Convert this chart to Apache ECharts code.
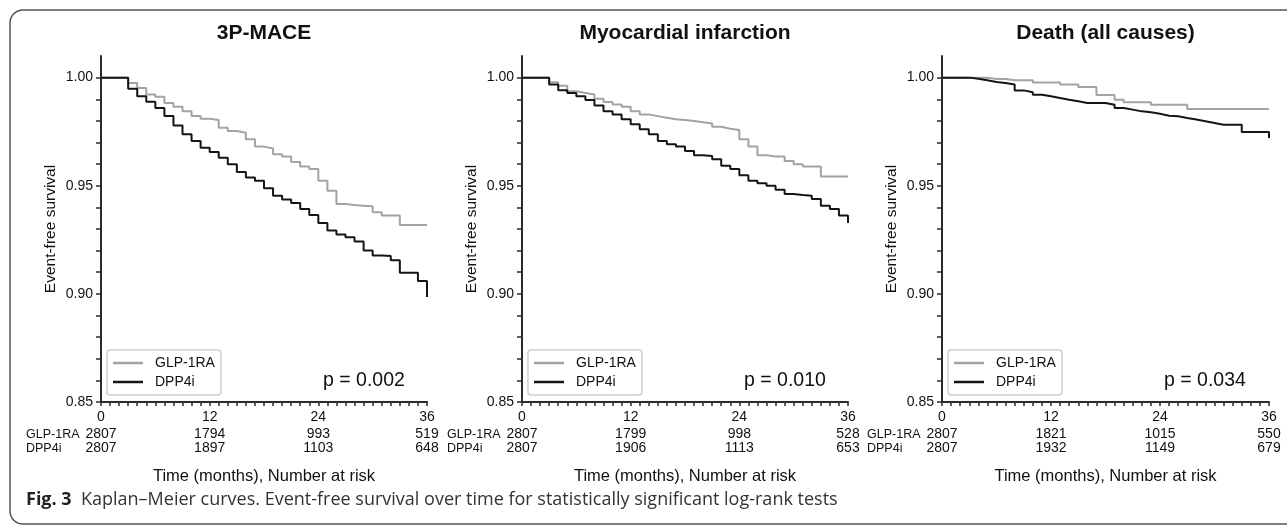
<!DOCTYPE html>
<html>
<head>
<meta charset="utf-8">
<title>Kaplan–Meier curves</title>
<script src="https://cdn.jsdelivr.net/npm/echarts@6/dist/echarts.min.js"></script>
<style>
  html, body { margin: 0; padding: 0; background: #fff; }
  #chart { width: 1287px; height: 527px; }
</style>
</head>
<body>
<div id="chart"></div>
<script>
// months on the x axis (0..36)
const months = [0, 1, 2, 3, 4, 5, 6, 7, 8, 9, 10, 11, 12, 13, 14, 15, 16, 17, 18,
  19, 20, 21, 22, 23, 24, 25, 26, 27, 28, 29, 30, 31, 32, 33, 34, 35, 36];

// survival, one value per month
const maceGlp = [1, 1, 1, 0.9975, 0.9952, 0.9922, 0.9911, 0.9883, 0.9865, 0.9845, 0.9822, 0.9810,
  0.9804, 0.9768, 0.9753, 0.9745, 0.9715, 0.9681, 0.9672, 0.9646, 0.9635, 0.9610, 0.9589, 0.9577,
  0.9523, 0.9477, 0.9416, 0.9411, 0.9408, 0.9405, 0.9377, 0.9362, 0.9362, 0.9319, 0.9319, 0.9319, 0.9319];
const maceDpp = [1, 1, 1, 0.9948, 0.9914, 0.9888, 0.9860, 0.9822, 0.9779, 0.9738, 0.9707, 0.9676,
  0.9656, 0.9630, 0.9600, 0.9564, 0.9538, 0.9523, 0.9488, 0.9454, 0.9436, 0.9420, 0.9393, 0.9365,
  0.9328, 0.9293, 0.9275, 0.9262, 0.9242, 0.9201, 0.9178, 0.9175, 0.9155, 0.9098, 0.9098, 0.9060, 0.8986];

const miGlp = [1, 1, 1, 0.9979, 0.9963, 0.9937, 0.9929, 0.9922, 0.9902, 0.9887, 0.9876, 0.9865,
  0.9845, 0.9830, 0.9822, 0.9814, 0.9807, 0.9804, 0.9799, 0.9794, 0.9788, 0.9773, 0.9764, 0.9758,
  0.9715, 0.9681, 0.9641, 0.9635, 0.9635, 0.9615, 0.9600, 0.9589, 0.9589, 0.9543, 0.9543, 0.9543, 0.9543];
const miDpp = [1, 1, 1, 0.9968, 0.9942, 0.9929, 0.9914, 0.9896, 0.9871, 0.9845, 0.9830, 0.9807,
  0.9784, 0.9761, 0.9738, 0.9707, 0.9692, 0.9681, 0.9661, 0.9641, 0.9638, 0.9623, 0.9592, 0.9577,
  0.9549, 0.9523, 0.9512, 0.9500, 0.9482, 0.9462, 0.9457, 0.9454, 0.9439, 0.9408, 0.9393, 0.9362, 0.9328];

const deathGlp = [1, 1, 1, 1, 1, 0.9994, 0.9994, 0.9988, 0.9988, 0.9988, 0.9978, 0.9978,
  0.9978, 0.9968, 0.9968, 0.9957, 0.9957, 0.9920, 0.9920, 0.9898, 0.9886, 0.9886, 0.9886, 0.9874,
  0.9874, 0.9874, 0.9874, 0.9855, 0.9855, 0.9855, 0.9855, 0.9855, 0.9855, 0.9855, 0.9855, 0.9855, 0.9855];
const deathDpp = [1, 1, 1, 0.9995, 0.9988, 0.9980, 0.9975, 0.9968, 0.9941, 0.9932, 0.9921, 0.9914,
  0.9906, 0.9898, 0.9891, 0.9883, 0.9883, 0.9883, 0.9875, 0.9860, 0.9852, 0.9844, 0.9840, 0.9833,
  0.9824, 0.9821, 0.9813, 0.9806, 0.9798, 0.9790, 0.9782, 0.9782, 0.9782, 0.9748, 0.9748, 0.9748, 0.9721];

// number at risk table
const riskTicks = [0, 12, 24, 36];
const maceRiskGlp = [2807, 1794, 993, 519];
const maceRiskDpp = [2807, 1897, 1103, 648];
const miRiskGlp = [2807, 1799, 998, 528];
const miRiskDpp = [2807, 1906, 1113, 653];
const deathRiskGlp = [2807, 1821, 1015, 550];
const deathRiskDpp = [2807, 1932, 1149, 679];

const yTicks = [0.85, 0.86, 0.87, 0.88, 0.89, 0.90, 0.91, 0.92, 0.93, 0.94, 0.95, 0.96, 0.97, 0.98, 0.99, 1.00];
const yLabels = [0.85, 0.90, 0.95, 1.00];

const panelTitles = ["3P-MACE", "Myocardial infarction", "Death (all causes)"];
const pValues = ["p = 0.002", "p = 0.010", "p = 0.034"];
const groupNames = ["GLP-1RA", "DPP4i"];

const panels = [
  { glp: maceGlp, dpp: maceDpp, riskGlp: maceRiskGlp, riskDpp: maceRiskDpp },
  { glp: miGlp, dpp: miDpp, riskGlp: miRiskGlp, riskDpp: miRiskDpp },
  { glp: deathGlp, dpp: deathDpp, riskGlp: deathRiskGlp, riskDpp: deathRiskDpp }
];

const FONT = "'Liberation Sans', Arial, Helvetica, sans-serif";
const CAPTION_FONT = "'Open Sans', 'Noto Sans', sans-serif";
const gridLeft = [101, 522, 942];
const gridWidth = [326, 326, 327];
const gridTop = 56;
const gridHeight = 346;
const axisColor = "#2b2b2b";
const glpColor = "#a3a3a3";
const dppColor = "#141414";

let myChart = echarts.init(document.getElementById("chart"), null, { renderer: "canvas" });

let grids = [], xAxes = [], yAxes = [], series = [], legends = [], titles = [];

panels.forEach((p, i) => {
  grids.push({ left: gridLeft[i], top: gridTop, width: gridWidth[i], height: gridHeight });

  // main time axis
  xAxes.push({
    gridIndex: i,
    type: "value",
    min: 0,
    max: 36,
    interval: 1,
    name: "Time (months), Number at risk",
    nameLocation: "middle",
    nameGap: 66,
    nameTextStyle: { fontFamily: FONT, fontSize: 16.5, color: "#111" },
    axisLine: { show: true, onZero: false, lineStyle: { color: axisColor, width: 2 } },
    axisTick: { show: true, length: 4, lineStyle: { color: axisColor, width: 1.5 } },
    axisLabel: { customValues: riskTicks, margin: 8, fontFamily: FONT, fontSize: 14, color: "#111" },
    splitLine: { show: false }
  });
  // number at risk rows, drawn as label-only axes
  [p.riskGlp, p.riskDpp].forEach((risk, r) => {
    xAxes.push({
      gridIndex: i,
      type: "value",
      min: 0,
      max: 36,
      position: "bottom",
      offset: 17 + r * 14,
      axisLine: { show: false },
      axisTick: { show: false },
      splitLine: { show: false },
      axisLabel: {
        customValues: riskTicks,
        margin: 8,
        fontFamily: FONT,
        fontSize: 14,
        color: "#111",
        formatter: v => String(risk[riskTicks.indexOf(v)])
      }
    });
  });

  yAxes.push({
    gridIndex: i,
    type: "value",
    min: 0.85,
    max: 1.01,
    name: "Event-free survival",
    nameLocation: "middle",
    nameGap: 42,
    nameTextStyle: { fontFamily: FONT, fontSize: 15.5, color: "#111" },
    axisLine: { show: true, onZero: false, lineStyle: { color: axisColor, width: 2 } },
    axisTick: { show: true, length: 5, customValues: yTicks, lineStyle: { color: axisColor, width: 1.5 } },
    axisLabel: {
      customValues: yLabels,
      margin: 8,
      fontFamily: FONT,
      fontSize: 14,
      color: "#111",
      formatter: v => v.toFixed(2)
    },
    splitLine: { show: false }
  });

  const xBase = i * 3;
  series.push({
    name: groupNames[0],
    type: "line",
    step: "end",
    xAxisIndex: xBase,
    yAxisIndex: i,
    symbol: "none",
    color: glpColor,
    lineStyle: { color: glpColor, width: 2 },
    data: months.map((m, k) => [m, p.glp[k]])
  });
  series.push({
    name: groupNames[1],
    type: "line",
    step: "end",
    xAxisIndex: xBase,
    yAxisIndex: i,
    symbol: "none",
    color: dppColor,
    lineStyle: { color: dppColor, width: 2 },
    data: months.map((m, k) => [m, p.dpp[k]])
  });

  legends.push({
    data: groupNames,
    orient: "vertical",
    left: gridLeft[i] + 6,
    top: 350,
    icon: "rect",
    itemWidth: 30,
    itemHeight: 2.5,
    itemGap: 5,
    padding: [6, 6, 6, 6],
    backgroundColor: "#fff",
    borderColor: "#cfcfcf",
    borderWidth: 1.5,
    borderRadius: 3,
    textStyle: { fontFamily: FONT, fontSize: 14, color: "#111", padding: [0, 4, 0, 7] }
  });

  titles.push({
    text: panelTitles[i],
    left: gridLeft[i] + gridWidth[i] / 2,
    top: 23,
    textAlign: "center",
    padding: 0,
    textStyle: { fontFamily: FONT, fontSize: 21, fontWeight: "bold", color: "#111" }
  });
  titles.push({
    text: pValues[i],
    left: gridLeft[i] + 222,
    top: 371,
    padding: 0,
    textStyle: { fontFamily: FONT, fontSize: 19.5, fontWeight: "normal", color: "#111" }
  });
  groupNames.forEach((g, r) => {
    titles.push({
      text: g,
      left: gridLeft[i] - 75,
      top: 428 + r * 14,
      padding: 0,
      textStyle: { fontFamily: FONT, fontSize: 12.5, fontWeight: "normal", color: "#111" }
    });
  });
});

// figure caption
titles.push({
  text: "{b|Fig. 3}  {n|Kaplan–Meier curves. Event-free survival over time for statistically significant log-rank tests}",
  left: 26,
  top: 491,
  padding: 0,
  textStyle: {
    fontFamily: CAPTION_FONT,
    fontWeight: "normal",
    fontSize: 18,
    rich: {
      b: { fontFamily: CAPTION_FONT, fontSize: 18, fontWeight: "bold", color: "#222" },
      n: { fontFamily: CAPTION_FONT, fontSize: 18, fontWeight: "normal", color: "#333" }
    }
  }
});

myChart.setOption({
  animation: false,
  backgroundColor: "#fff",
  title: titles,
  legend: legends,
  grid: grids,
  xAxis: xAxes,
  yAxis: yAxes,
  series: series,
  graphic: [{
    type: "rect",
    z: -10,
    silent: true,
    shape: { x: 10, y: 10, width: 1320, height: 514, r: 13 },
    style: { fill: "none", stroke: "#555", lineWidth: 1.5 }
  }]
});
</script>
</body>
</html>
